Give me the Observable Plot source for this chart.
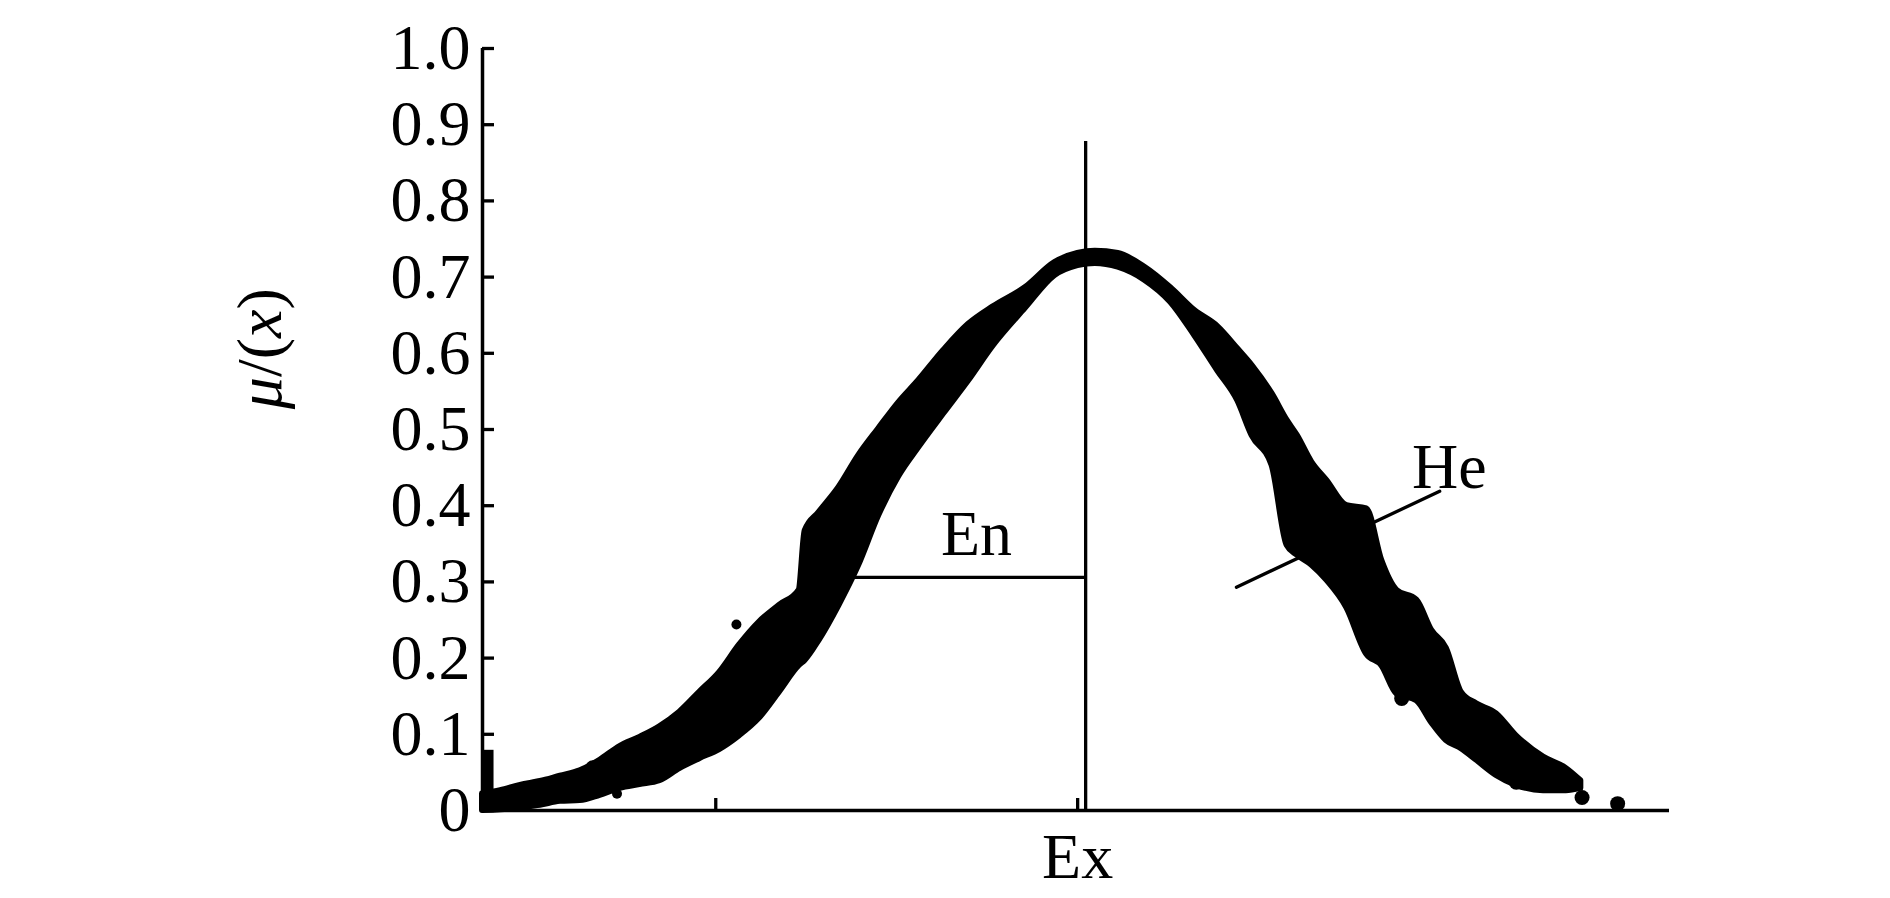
<!DOCTYPE html>
<html><head><meta charset="utf-8">
<script src="https://cdn.jsdelivr.net/npm/d3@7"></script>
<script src="https://cdn.jsdelivr.net/npm/@observablehq/plot@0.6"></script>
<style>body{margin:0;background:#fff;} #chart svg{display:block;}</style>
</head><body><div id="chart"></div>
<script>
// Cloud drop band: x position, upper and lower membership of the drop cloud
const bandX = [0.00,0.30,0.63,0.96,1.29,1.62,1.95,2.28,2.61,2.94,3.27,3.60,3.93,4.26,4.59,4.92,5.25,5.35,5.58,5.91,6.24,6.57,6.90,7.23,7.65,8.06,8.47,9.00,9.49,9.87,10.16,10.54,10.98,11.41,11.81,12.19,12.52,12.76,13.09,13.34,13.51,13.75,14.00,14.33,14.66,14.91,15.16,15.49,15.74,15.98,16.23,16.48,16.81,17.14,17.59,17.97,18.21];
const bandTop = [0.022,0.026,0.033,0.038,0.045,0.052,0.066,0.084,0.096,0.110,0.129,0.155,0.181,0.217,0.247,0.269,0.289,0.367,0.391,0.424,0.466,0.501,0.535,0.564,0.604,0.638,0.661,0.686,0.719,0.731,0.734,0.731,0.713,0.686,0.656,0.635,0.606,0.584,0.547,0.512,0.492,0.457,0.433,0.400,0.396,0.328,0.289,0.276,0.236,0.213,0.155,0.140,0.127,0.098,0.070,0.055,0.039];
const bandBottom = [0.000,0.001,0.004,0.007,0.012,0.013,0.020,0.029,0.034,0.039,0.055,0.068,0.080,0.098,0.121,0.155,0.190,0.197,0.223,0.269,0.322,0.387,0.438,0.476,0.521,0.564,0.610,0.659,0.702,0.715,0.718,0.713,0.696,0.667,0.623,0.577,0.538,0.492,0.453,0.348,0.335,0.322,0.302,0.266,0.205,0.190,0.153,0.144,0.115,0.092,0.081,0.066,0.046,0.033,0.026,0.026,0.029];

// isolated drops and lobes of the cloud
const bigDropX = [1.83, 4.76, 15.24, 17.14, 18.23, 18.82];
const bigDropMu = [0.056, 0.161, 0.147, 0.037, 0.017, 0.009];
const smallDropX = [2.23, 4.21, 5.25, 4.34];
const smallDropMu = [0.022, 0.244, 0.203, 0.112];
// drops piled on the axis at the far left
const cornerX = [0.1];
const cornerMu = [0.079];

// characteristics
const exValue = 10;
const exTop = 0.878;
const enMu = 0.306;
const enStart = 6.08;
const heX = [12.50, 15.87];
const heMu = [0.293, 0.419];
const enLabel = {text: "En", x: 8.19, y: 0.335};
const heLabel = {text: "He", x: 15.41, y: 0.423};

const yTicks = [0,0.1,0.2,0.3,0.4,0.5,0.6,0.7,0.8,0.9,1.0];
const xTicks = [4, 10];
const xTickLabels = ["", "Ex"];
const yLabel = "μ/(x)";
const xDomain = [0, 19.68];

const band = bandX.map((x, i) => ({x, hi: bandTop[i], lo: bandBottom[i]}));
const bigDrops = bigDropX.map((x, i) => ({x, y: bigDropMu[i]}));
const smallDrops = smallDropX.map((x, i) => ({x, y: smallDropMu[i]}));
const corner = cornerX.map((x, i) => ({x, y1: 0, y2: cornerMu[i]}));
const heLine = heX.map((x, i) => ({x, y: heMu[i]}));

const font = "'Liberation Serif','Times New Roman',serif";
const chart = Plot.plot({
  width: 1890, height: 898,
  marginLeft: 482, marginRight: 221, marginTop: 48, marginBottom: 88,
  style: {fontFamily: font, fontSize: "64px", background: "#fff", color: "#000", overflow: "visible"},
  x: {domain: xDomain, axis: null},
  y: {domain: [0, 1], axis: null},
  marks: [
    Plot.areaY(band, {x: "x", y1: "lo", y2: "hi", fill: "#000", stroke: "#000", strokeWidth: 6, strokeLinejoin: "round", curve: "monotone-x"}),
    Plot.ruleX(corner, {x: "x", y1: "y1", y2: "y2", strokeWidth: 10}),
    Plot.dot(bigDrops, {x: "x", y: "y", r: 7.5, fill: "#000", stroke: null}),
    Plot.dot(smallDrops, {x: "x", y: "y", r: 5, fill: "#000", stroke: null}),
    Plot.ruleX([exValue], {y1: 0, y2: exTop, strokeWidth: 3.3}),
    Plot.ruleY([enMu], {x1: enStart, x2: exValue, strokeWidth: 3.3}),
    Plot.line(heLine, {x: "x", y: "y", strokeWidth: 3.3}),
    Plot.text([enLabel], {x: "x", y: "y", text: "text", lineAnchor: "bottom", textAnchor: "middle", fontSize: 64}),
    Plot.text([heLabel], {x: "x", y: "y", text: "text", lineAnchor: "bottom", textAnchor: "start", fontSize: 64}),
    Plot.axisY({ticks: yTicks, tickSize: -12, tickPadding: 24, strokeWidth: 3, fontSize: 64, label: null,
      tickFormat: d => d === 0 ? "0" : d.toFixed(1)}),
    Plot.axisX({ticks: xTicks, tickSize: -12, tickPadding: 34, strokeWidth: 3, fontSize: 64, dx: -8, label: null,
      tickFormat: (d) => xTickLabels[xTicks.indexOf(d)]}),
    Plot.ruleX([0], {y1: 0, y2: 1, strokeWidth: 3.5}),
    Plot.ruleY([0], {x1: xDomain[0], x2: xDomain[1], strokeWidth: 3.5}),
    Plot.text([yLabel], {frameAnchor: "left", dx: -222, y: 0.606, rotate: -90, fontSize: 64, textAnchor: "middle"})
  ]
});
document.getElementById("chart").appendChild(chart);
// thicker tick marks, as in the reference
for (const g of chart.querySelectorAll('g[aria-label$="axis tick"]')) {
  g.setAttribute("stroke-width", "3.3");
  for (const p of g.querySelectorAll("path")) p.setAttribute("stroke-width", "3.3");
}
// italic μ and x in the axis title
for (const t of chart.querySelectorAll("text")) {
  if (t.textContent === yLabel) {
    t.innerHTML = '<tspan font-style="italic">μ</tspan>/(<tspan font-style="italic">x</tspan>)';
  }
}
</script>
</body></html>
